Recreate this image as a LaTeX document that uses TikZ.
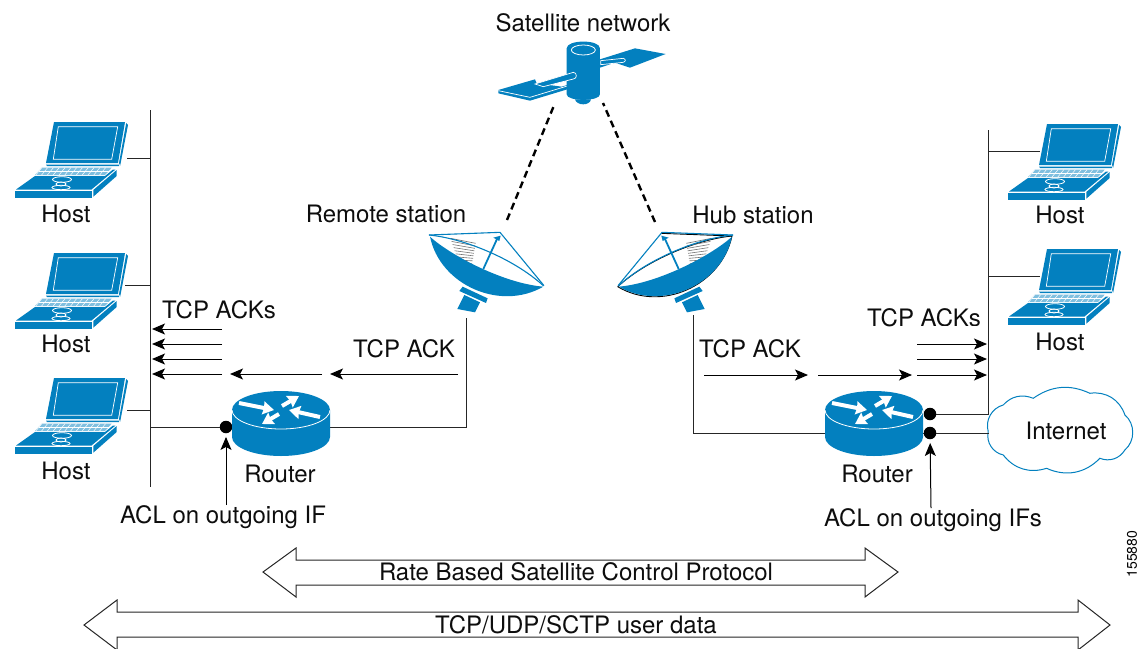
\documentclass[tikz,border=0pt]{standalone}
\usepackage{fontspec}
\setmainfont{TeX Gyre Heros}
\usetikzlibrary{arrows.meta}
\definecolor{cisco}{HTML}{0380BF}
\definecolor{keyb}{HTML}{7FBFDF}
\tikzset{
  lbl/.style={font=\fontsize{24}{27}\selectfont,inner sep=0pt,text=black!95},
  wire/.style={draw=black!85,line width=.95pt},
  arr/.style={draw=black,line width=1pt,-{Stealth[length=13pt,width=11pt,inset=3pt]}},
  dotn/.style={circle,fill=black,draw=none,minimum size=12.5pt,inner sep=0pt},
  dbl/.style={draw=black!85,line width=1pt,fill=white,line join=miter},
  rarr/.style={draw=white,line width=4pt,-{Stealth[length=11pt,width=13pt,inset=1pt]}},
  laptop/.pic={
    \fill[cisco] (39,0)--(110,0)--(103,41)--(31,41)--cycle;
    \fill[cisco] (111.2,1)--(113,3)--(105.2,43.5)--(104,41)--cycle;
    \fill[cisco] (31,42.5)--(104,42.5)--(104,44)--(32,44)--cycle;
    \draw[white,line width=.7pt] (43.3,4.7)--(102.7,4.7)--(96.7,37.3)--(38.3,37.3)--cycle;
    \fill[keyb] (26.7,45.7)--(96.7,45.7)--(90,53)--(20,53)--cycle;
    \foreach \i in {1,...,12}{\draw[white,line width=.5pt] ({21+\i*5.8},45.7)--({15+\i*5.8},53);}
    \draw[white,line width=.5pt] (24,49.3)--(93.5,49.3);
    \fill[cisco] (20,54)--(90,54)--(98,47.5)--(100.5,47.5)--(76.5,67.5)--(1,67.5)--cycle;
    \fill[cisco] (0,68.7)--(77,68.7)--(77,75.7)--(0,75.7)--cycle;
    \fill[cisco] (78.3,68)--(101.7,48)--(101.7,54)--(78.3,74.7)--cycle;
    \draw[white,line width=.8pt] (47,57.5) ellipse (9.5 and 2.8);
    \draw[white,line width=.8pt] (46,62) ellipse (5 and 2);
    \draw[white,line width=.8pt] (46,65.5) ellipse (9 and 2.2);
  },
  router/.pic={
    \fill[cisco] (-49,0)--(-49,27) arc[start angle=180,end angle=0,x radius=49,y radius=19]--(49,0)--cycle;
    \fill[cisco] (0,0) ellipse (49 and 19);
    \draw[white,line width=.8pt] (-49,0) arc[start angle=180,end angle=0,x radius=49,y radius=19];
    \draw[rarr] (-42,-7)--(-7,0);
    \draw[rarr] (1,-4)--(18,-14);
    \draw[rarr] (39,7)--(8,0);
    \draw[rarr] (-2,4)--(-19,14);
  },
  satellite/.pic={
    \begin{scope}[x=.3333pt,y=-.3333pt]
    \fill[cisco] (55,180)--(165,148)--(170,160)--(245,170)--(262,165)--(262,178)--(150,212)--(55,190)--cycle;
    \draw[white,line width=.7pt] (55,182)--(150,202)--(262,168);
    \fill[cisco] (360,88)--(465,55)--(557,72)--(450,113)--(405,98)--(360,113)--cycle;
    \fill[cisco] (260,55)--(260,193) .. controls (260,215) and (360,215) .. (360,193)--(360,55) .. controls (360,28) and (260,28) .. (260,55)--cycle;
    \fill[cisco] (285,208) .. controls (290,228) and (330,228) .. (333,208)--cycle;
    \draw[white,line width=.8pt] (310,60) ellipse (36 and 15);
    \fill[cisco,draw=white,line width=.7pt] (165,162)--(280,127) .. controls (292,127) and (292,147) .. (280,147)--(190,170)--cycle;
    \fill[cisco,draw=white,line width=.7pt] (362,92)--(430,85) .. controls (438,88) and (438,94) .. (430,97)--(362,104)--cycle;
    \end{scope}
  },
  dishshape/.pic={
    \begin{scope}[x=.3333pt,y=-.3333pt]
    \draw[#1,line width=.9pt] (400,212) .. controls (270,290) and (90,210) .. (57,60)--(270,52);
    \draw[#1,line width=.9pt] (57,60) .. controls (160,70) and (310,130) .. (400,212);
    \end{scope}
  },
  dish/.pic={
    \begin{scope}[x=.3333pt,y=-.3333pt]
    \foreach \i in {0,...,8}{\draw[black!55,line width=.6pt] ({122+\i*3},{70+\i*9.3})--({197-\i*1.3},{85+\i*7.5});}
    \fill[cisco] (60,65) .. controls (90,210) and (270,290) .. (400,215) .. controls (280,205) and (120,120) .. (60,65) -- cycle;
    \draw[cisco,line width=1.1pt] (400,212) .. controls (310,130) and (160,70) .. (57,60);
    \draw[cisco,line width=1.1pt] (57,60)--(270,52)--(402,212);
    \draw[cisco,line width=1.8pt] (220,162)--(262,70);
    \fill[cisco] (250,68)--(272,62)--(268,78)--cycle;
    \fill[cisco] (148,228)--(158,215)--(233,250)--(228,264)--cycle;
    \fill[cisco] (163,240)--(210,262)--(195,292)--(142,282)--cycle;
    \end{scope}
  }
}
\begin{document}
\begin{tikzpicture}[x=1pt,y=-1pt]
\useasboundingbox (0,0) rectangle (1145,648);
% coordinates
\coordinate (busLtop) at (150,110); \coordinate (busLbot) at (150,487);
\coordinate (h1) at (127,158); \coordinate (h1b) at (150,158);
\coordinate (h2) at (125,285); \coordinate (h2b) at (150,285);
\coordinate (h3) at (127,410); \coordinate (h3b) at (150,410);
\coordinate (busRtop) at (988,130); \coordinate (busRbot) at (988,414);
\coordinate (h4) at (1040,151); \coordinate (h4b) at (988,151);
\coordinate (h5) at (1040,276); \coordinate (h5b) at (988,276);
% hosts
\pic at (15,122) {laptop}; \pic at (15,253) {laptop}; \pic at (15,378) {laptop};
\pic at (1008,124) {laptop}; \pic at (1008,249) {laptop};
\node[lbl] (hl1) at (66,214) {Host};
\node[lbl] (hl2) at (66,344) {Host};
\node[lbl] (hl3) at (66,471) {Host};
\node[lbl] (hl4) at (1060,215) {Host};
\node[lbl] (hl5) at (1060,342) {Host};
% bus lines
\draw[wire] (busLtop)--(busLbot);
\draw[wire] (h1)--(h1b); \draw[wire] (h2)--(h2b); \draw[wire] (h3)--(h3b);
\draw[wire] (h4b)--(h4); \draw[wire] (h5b)--(h5);
% routers
\node[dotn] (dotL) at (226,427) {};
\node[dotn] (dotR1) at (930,414) {};
\node[dotn] (dotR2) at (930,433) {};
\coordinate (rLw) at (233,427); \coordinate (rLe) at (330,427);
\coordinate (rRw) at (825,433); \coordinate (rRe) at (923,433);
\coordinate (leftfeed) at (466,318); \coordinate (rightfeed) at (693,315);
\coordinate (cornL) at (466,427); \coordinate (cornR) at (693,433);
\draw[wire] (h3b |- dotL)--(dotL);
\draw[wire] (dotL)--(rLw);
\draw[wire] (rLe)--(cornL)--(leftfeed);
\draw[wire] (rightfeed)--(cornR)--(rRw);
\draw[wire] (dotR1)--(busRbot)--(busRtop);
\draw[wire] (rRe)--(dotR2);
\pic at (281,410) {router};
\pic at (874,410) {router};
\node[lbl] (rl1) at (280,474) {Router};
\node[lbl] (rl2) at (877,474) {Router};
% cloud
\begin{scope}[x=.3333pt,y=-.3333pt,shift={(2400,990)}]
\draw[cisco,line width=1pt,fill=white] (565,305) to[bend left=45] (610,225) to[bend left=35] (700,205) to[bend left=30] (870,190) to[bend left=40] (975,255) to[bend left=50] (975,360) to[bend left=40] (900,385) to[bend left=35] (740,415) to[bend left=35] (610,375) to[bend left=45] (565,305) -- cycle;
\end{scope}
\node[lbl] (inet) at (1066,431) {Internet};
\coordinate (cloudW) at (989,433);
\draw[wire] (dotR2)--(cloudW);
% satellite and dishes
\pic at (480,30) {satellite};
\pic[xscale=-1] at (751,216) {dishshape=black};
\pic at (410,215) {dish};
\pic[xscale=-1] at (752,215) {dish};
\node[lbl] (satl) at (583,23) {Satellite network};
\node[lbl] (remote) at (386,214) {Remote station};
\node[lbl] (hub) at (753,215) {Hub station};
% dashed links
\coordinate (sa) at (555,103); \coordinate (sb) at (603,103);
\coordinate (da) at (507,220); \coordinate (db) at (655,222);
\draw[black,line width=2.4pt,dash pattern=on 7pt off 4.5pt] (da)--(sa);
\draw[black,line width=2.4pt,dash pattern=on 7pt off 4.5pt] (db)--(sb);
% ACK arrows left
\coordinate (a1s) at (222,329); \coordinate (a1e) at (152,329);
\coordinate (a2s) at (222,344); \coordinate (a2e) at (152,344);
\coordinate (a3s) at (222,359); \coordinate (a3e) at (152,359);
\coordinate (a4s) at (222,374); \coordinate (a4e) at (152,374);
\coordinate (a5s) at (322,374); \coordinate (a5e) at (230,374);
\coordinate (a6s) at (458,374); \coordinate (a6e) at (330,374);
\draw[arr] (a1s)--(a1e); \draw[arr] (a2s)--(a2e); \draw[arr] (a3s)--(a3e); \draw[arr] (a4s)--(a4e);
\draw[arr] (a5s)--(a5e); \draw[arr] (a6s)--(a6e);
% ACK arrows right
\coordinate (b1s) at (704,375); \coordinate (b1e) at (808,375);
\coordinate (b2s) at (818,375); \coordinate (b2e) at (912,375);
\coordinate (b3s) at (917,375); \coordinate (b3e) at (987,375);
\coordinate (b4s) at (917,359); \coordinate (b4e) at (987,359);
\coordinate (b5s) at (917,344); \coordinate (b5e) at (987,344);
\node[lbl] (t1) at (219,310) {TCP ACKs};
\node[lbl] (t2) at (404,349) {TCP ACK};
\node[lbl] (t3) at (750,349) {TCP ACK};
\node[lbl] (t4) at (924,318) {TCP ACKs};
\fill[white] (940,325.5) rectangle (986,334);
\draw[arr] (b1s)--(b1e); \draw[arr] (b2s)--(b2e); \draw[arr] (b3s)--(b3e); \draw[arr] (b4s)--(b4e); \draw[arr] (b5s)--(b5e);
% ACL
\node[lbl] (aclL) at (223,517) {ACL on outgoing IF};
\node[lbl] (aclR) at (933,520) {ACL on outgoing IFs};
\coordinate (aclLs) at (226,505); \coordinate (aclRs) at (931,508);
\draw[arr,shorten >=3.5pt] (aclLs)--(dotL);
\draw[arr,shorten >=3.5pt] (aclRs)--(dotR2);
% double arrows
\draw[dbl] (263,572)--(296,548)--(296,560)--(865,560)--(865,548)--(898,572)--(865,597)--(865,585)--(296,585)--(296,597)--cycle;
\draw[dbl] (84,625)--(117,600)--(117,612)--(1078,612)--(1078,600)--(1110,625)--(1078,650)--(1078,637)--(117,637)--(117,650)--cycle;
\node[lbl] (rb) at (576,572) {Rate Based Satellite Control Protocol};
\node[lbl] (tu) at (576,625) {TCP/UDP/SCTP user data};
\node[font=\fontsize{14}{16}\selectfont,rotate=90,inner sep=0pt] (num) at (1132,554) {155880};
\end{tikzpicture}
\end{document}
